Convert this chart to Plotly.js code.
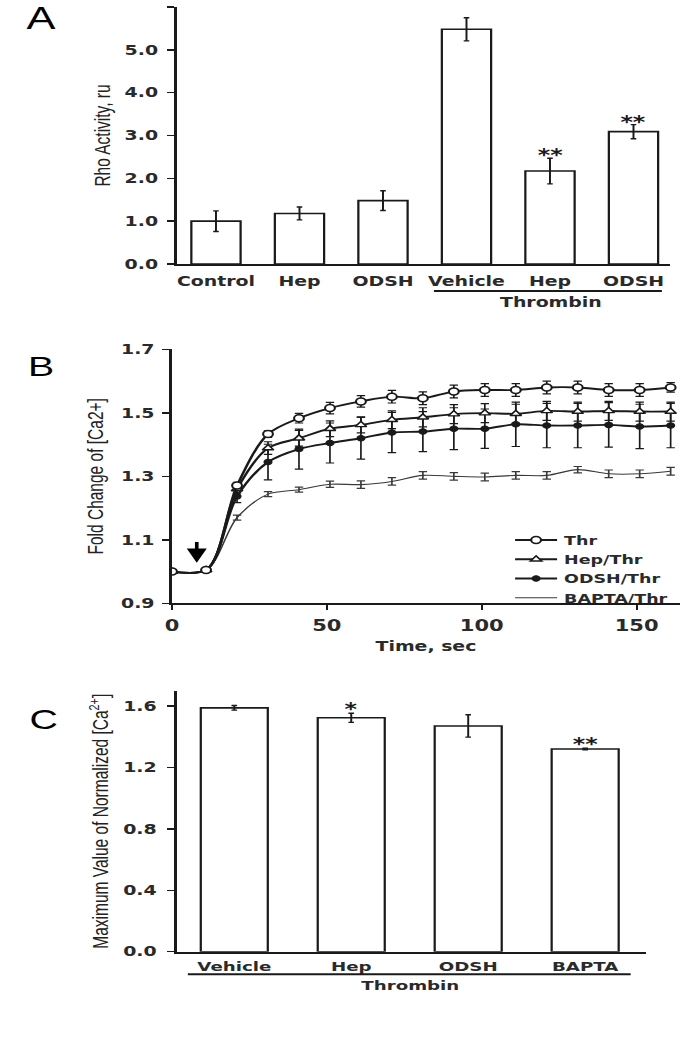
<!DOCTYPE html>
<html><head><meta charset="utf-8">
<script src="https://cdn.plot.ly/plotly-3.0.1.min.js"></script>
<style>
html,body{margin:0;padding:0;background:#fff;overflow:hidden;}
#chart{width:487px;height:1050px;transform:scaleX(1.4004);transform-origin:0 0;}
</style></head><body><div id="chart"></div>
<script>
// ---------- Panel A : Rho activity ----------
const aLabels = ['Control', 'Hep', 'ODSH', 'Vehicle', 'Hep', 'ODSH'];
const aValues = [1.00, 1.18, 1.48, 5.48, 2.17, 3.09];
const aErrors = [0.24, 0.15, 0.23, 0.27, 0.30, 0.165];
const aSignif = ['', '', '', '', '**', '**'];
const aGroupLabel = 'Thrombin';
const aTickVals = [0, 1, 2, 3, 4, 5, 6];

// ---------- Panel B : Ca2+ time course ----------
const bTime = [0, 11, 21, 31, 41, 51, 61, 71, 81, 91, 101, 111, 121, 131, 141, 151, 161];
const bThr     = [1.000, 1.005, 1.271, 1.433, 1.483, 1.515, 1.536, 1.551, 1.546, 1.567, 1.572, 1.572, 1.580, 1.580, 1.572, 1.572, 1.580];
const bThrErr  = [0.000, 0.004, 0.010, 0.010, 0.015, 0.018, 0.018, 0.020, 0.020, 0.020, 0.020, 0.020, 0.020, 0.020, 0.020, 0.020, 0.015];
const bHep     = [1.000, 1.005, 1.260, 1.389, 1.420, 1.450, 1.462, 1.478, 1.486, 1.496, 1.499, 1.497, 1.506, 1.504, 1.506, 1.504, 1.504];
const bHepErr  = [0.000, 0.004, 0.012, 0.020, 0.025, 0.025, 0.025, 0.028, 0.030, 0.030, 0.030, 0.030, 0.030, 0.030, 0.030, 0.030, 0.030];
const bOdsh    = [1.000, 1.005, 1.237, 1.345, 1.386, 1.405, 1.420, 1.438, 1.441, 1.450, 1.450, 1.464, 1.460, 1.460, 1.462, 1.457, 1.460];
const bOdshErr = [0.000, 0.004, 0.020, 0.056, 0.063, 0.063, 0.066, 0.063, 0.063, 0.066, 0.062, 0.070, 0.070, 0.070, 0.070, 0.070, 0.070];
const bBapta   = [1.000, 1.005, 1.170, 1.244, 1.258, 1.275, 1.274, 1.284, 1.303, 1.300, 1.298, 1.303, 1.303, 1.321, 1.308, 1.308, 1.316];
const bBaptaErr= [0.000, 0.004, 0.008, 0.008, 0.008, 0.010, 0.012, 0.012, 0.012, 0.012, 0.012, 0.012, 0.012, 0.010, 0.012, 0.012, 0.012];
const bSeriesNames = ['Thr', 'Hep/Thr', 'ODSH/Thr', 'BAPTA/Thr'];
const bArrowTime = 8;
const bXTicks = [0, 50, 100, 150];
const bYTicks = [0.9, 1.1, 1.3, 1.5, 1.7];

// ---------- Panel C : maximum normalized Ca2+ ----------
const cLabels = ['Vehicle', 'Hep', 'ODSH', 'BAPTA'];
const cValues = [1.589, 1.524, 1.471, 1.321];
const cErrors = [0.015, 0.030, 0.073, 0.005];
const cSignif = ['', '*', '', '**'];
const cGroupLabel = 'Thrombin';
const cTickVals = [0, 0.4, 0.8, 1.2, 1.6];

// ---------- styling ----------
const INK = '#1a1a1a';
const TXT = '#2a2a2a';
const boldFont = size => ({family: 'DejaVu Sans', size: size, color: TXT, weight: 'bold'});
const titleFont = {family: 'Liberation Sans', size: 15.5, color: '#222'};
const idx = arr => arr.map((_, i) => i);

const traces = [];

// Panel A bars
traces.push({
  type: 'bar', xaxis: 'x', yaxis: 'y', x: idx(aValues), y: aValues, width: 0.59,
  marker: {color: '#fff', line: {color: INK, width: 1.6}},
  error_y: {type: 'data', array: aErrors, visible: true, color: INK, thickness: 1.4, width: 2},
  showlegend: false, hoverinfo: 'skip'
});

// Panel B lines
const bSeries = [
  {y: bBapta, e: bBaptaErr, name: bSeriesNames[3], mode: 'lines', line: {color: '#3a3a3a', width: 1.1}, marker: {}},
  {y: bOdsh, e: bOdshErr, name: bSeriesNames[2], mode: 'lines+markers', line: {color: INK, width: 1.9},
   marker: {symbol: 'circle', size: 5.5, color: INK, line: {color: INK, width: 1}}},
  {y: bHep, e: bHepErr, name: bSeriesNames[1], mode: 'lines+markers', line: {color: INK, width: 1.9},
   marker: {symbol: 'triangle-up', size: 7, color: '#fff', line: {color: INK, width: 1.4}}},
  {y: bThr, e: bThrErr, name: bSeriesNames[0], mode: 'lines+markers', line: {color: INK, width: 1.9},
   marker: {symbol: 'circle', size: 7, color: '#fff', line: {color: INK, width: 1.5}}}
];
bSeries.forEach(s => traces.push({
  type: 'scatter', xaxis: 'x2', yaxis: 'y2', x: bTime, y: s.y, name: s.name, mode: s.mode,
  line: Object.assign({shape: 'spline', smoothing: 0.9}, s.line), marker: s.marker,
  error_y: {type: 'data', array: s.e, visible: true, color: s.line.color, thickness: 1.2, width: 3},
  hoverinfo: 'skip'
}));

// Panel C bars
traces.push({
  type: 'bar', xaxis: 'x3', yaxis: 'y3', x: idx(cValues), y: cValues, width: 0.573,
  marker: {color: '#fff', line: {color: INK, width: 1.6}},
  error_y: {type: 'data', array: cErrors, visible: true, color: INK, thickness: 1.4, width: 2},
  showlegend: false, hoverinfo: 'skip'
});

// annotations
const ann = [];
const panelLetter = (t, x, y, size, anchor) => ann.push({text: t, xref: 'paper', yref: 'paper', x: x, y: y,
  xanchor: 'center', yanchor: anchor, showarrow: false, borderpad: 0,
  font: {family: 'Liberation Sans', size: size, color: '#000'}});
panelLetter('A', 0.0616, 1.0, 31, 'top');
panelLetter('B', 0.0616, 0.6505, 28, 'middle');
panelLetter('C', 0.0638, 0.3143, 28, 'middle');

const starFont = {family: 'DejaVu Sans', size: 17, color: INK, weight: 'bold'};
aSignif.forEach((s, i) => { if (s) ann.push({text: s, xref: 'x', yref: 'y', x: i, y: aValues[i] + aErrors[i],
  yanchor: 'middle', yshift: 3, showarrow: false, font: starFont}); });
cSignif.forEach((s, i) => { if (s) ann.push({text: s, xref: 'x3', yref: 'y3', x: i, y: cValues[i] + cErrors[i],
  yanchor: 'middle', yshift: 4, showarrow: false, font: starFont}); });

ann.push({text: aGroupLabel, xref: 'x', yref: 'paper', x: 4.01, y: 0.7124, xanchor: 'center', yanchor: 'middle',
  showarrow: false, font: boldFont(13.5)});
ann.push({text: cGroupLabel, xref: 'x3', yref: 'paper', x: 1.5, y: 0.0619, xanchor: 'center', yanchor: 'middle',
  showarrow: false, font: boldFont(13)});

// arrow marking thrombin addition
ann.push({text: '', xref: 'x2', yref: 'y2', x: bArrowTime, y: 1.028, axref: 'x2', ayref: 'y2',
  ax: bArrowTime, ay: 1.098, showarrow: true, arrowhead: 2, arrowsize: 1.1, arrowwidth: 2.6, arrowcolor: '#000'});

const shapes = [
  {type: 'line', xref: 'x', yref: 'paper', x0: 2.61, x1: 5.34, y0: 0.7229, y1: 0.7229, line: {color: INK, width: 2}},
  {type: 'line', xref: 'x3', yref: 'paper', x0: -0.397, x1: 3.389, y0: 0.0721, y1: 0.0721, line: {color: INK, width: 2}}
];

const baseAxis = {showgrid: false, zeroline: false, showline: true, linecolor: INK, fixedrange: true};
const layout = {
  width: 487, height: 1050, autosize: false,
  margin: {l: 0, r: 0, t: 0, b: 0, pad: 0},
  paper_bgcolor: '#fff', plot_bgcolor: 'rgba(0,0,0,0)',
  font: {family: 'DejaVu Sans', color: TXT},
  bargap: 0,
  xaxis: Object.assign({}, baseAxis, {domain: [0.2595, 0.9824], range: [-0.467, 5.437], anchor: 'y',
    tickmode: 'array', tickvals: idx(aLabels), ticktext: aLabels, ticks: '', linewidth: 2,
    tickfont: boldFont(13.5), ticklabelstandoff: 4}),
  yaxis: Object.assign({}, baseAxis, {domain: [0.7486, 0.9933], range: [0, 6], anchor: 'x',
    tickmode: 'array', tickvals: aTickVals, tickformat: '.1f', ticks: 'outside', ticklen: 5, tickwidth: 1.5,
    tickcolor: INK, linewidth: 1.8, tickfont: boldFont(13.5), ticklabelstandoff: 4,
    title: {text: 'Rho Activity, ru', font: titleFont, standoff: 6}}),
  xaxis2: Object.assign({}, baseAxis, {domain: [0.2522, 0.997], range: [0, 164], anchor: 'y2',
    tickmode: 'array', tickvals: bXTicks, ticks: 'outside', ticklen: 5, tickwidth: 1.5, tickcolor: INK,
    linewidth: 2, tickfont: boldFont(15), ticklabelstandoff: 3,
    title: {text: 'Time, sec', font: boldFont(13.5), standoff: 7}}),
  yaxis2: Object.assign({}, baseAxis, {domain: [0.4254, 0.6673], range: [0.9, 1.7], anchor: 'x2',
    tickmode: 'array', tickvals: bYTicks, tickformat: '.1f', ticks: 'outside', ticklen: 5, tickwidth: 1.5,
    tickcolor: INK, linewidth: 1.8, tickfont: boldFont(13.5), ticklabelstandoff: 3,
    title: {text: 'Fold Change of [Ca2+]', font: titleFont, standoff: 8}}),
  xaxis3: Object.assign({}, baseAxis, {domain: [0.2595, 0.9472], range: [-0.49, 3.52], anchor: 'y3',
    tickmode: 'array', tickvals: idx(cLabels), ticktext: cLabels, ticks: '', linewidth: 2,
    tickfont: boldFont(13), ticklabelstandoff: 2}),
  yaxis3: Object.assign({}, baseAxis, {domain: [0.0936, 0.3421], range: [0, 1.7], anchor: 'x3',
    tickmode: 'array', tickvals: cTickVals, tickformat: '.1f', ticks: 'outside', ticklen: 5, tickwidth: 1.5,
    tickcolor: INK, linewidth: 1.8, tickfont: boldFont(13.5), ticklabelstandoff: 5,
    title: {text: 'Maximum Value of Normalized [Ca<sup>2+</sup>]', font: titleFont, standoff: 6}}),
  showlegend: true,
  legend: {x: 0.745, y: 0.4996, xanchor: 'left', yanchor: 'top', bgcolor: 'rgba(0,0,0,0)',
    font: boldFont(12.5), traceorder: 'reversed', itemwidth: 30, tracegroupgap: 0},
  annotations: ann,
  shapes: shapes
};

Plotly.newPlot('chart', traces, layout, {displayModeBar: false, staticPlot: true});
</script></body></html>
